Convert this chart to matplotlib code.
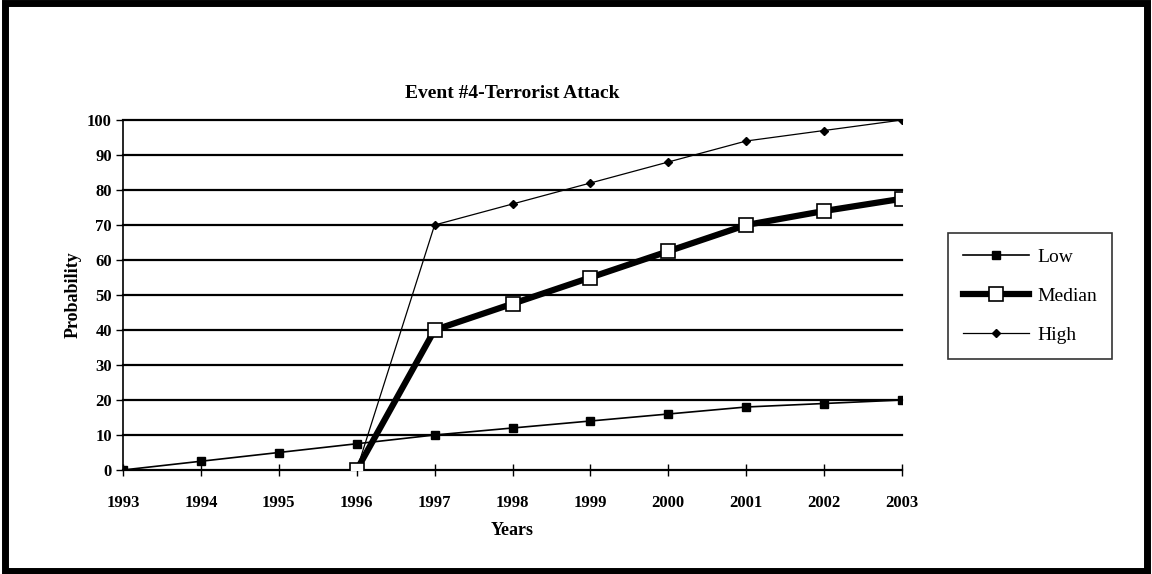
import matplotlib.pyplot as plt
from matplotlib.patches import Rectangle

years = [1993, 1994, 1995, 1996, 1997, 1998, 1999, 2000, 2001, 2002, 2003]
low = [0, 2.5, 5, 7.5, 10, 12, 14, 16, 18, 19, 20]
median_years = [1996, 1997, 1998, 1999, 2000, 2001, 2002, 2003]
median = [0, 40, 47.5, 55, 62.5, 70, 74, 77.5]
high_years = [1996, 1997, 1998, 1999, 2000, 2001, 2002, 2003]
high = [0, 70, 76, 82, 88, 94, 97, 100]

plt.rcParams['font.family'] = ['Liberation Serif', 'DejaVu Serif']

fig = plt.figure(figsize=(11.52, 5.74), dpi=100)
ax = fig.add_axes([123 / 1152, 1 - 470 / 574, (902 - 123) / 1152, 350 / 574])

for v in range(10, 101, 10):
    ax.axhline(v, color='black', lw=1.6, zorder=1, clip_on=False)

ax.plot(years, low, color='black', lw=1.2, marker='s', ms=6,
        mfc='black', label='Low', zorder=3)
ax.plot(median_years, median, color='black', lw=4.5, marker='s', ms=10,
        mfc='white', mec='black', mew=1.2, label='Median', zorder=4)
ax.plot(high_years, high, color='black', lw=0.9, marker='D', ms=4,
        mfc='black', label='High', zorder=3)

ax.set_xlim(1993, 2003)
ax.set_ylim(0, 100)
ax.set_xticks(years)
ax.set_yticks(range(0, 101, 10))
ax.tick_params(axis='x', direction='inout', length=8, width=1, labelsize=12, pad=14)
ax.tick_params(axis='y', direction='out', length=5, width=1, labelsize=12, pad=3)
for lbl in ax.get_xticklabels() + ax.get_yticklabels():
    lbl.set_fontweight('bold')
ax.spines['top'].set_visible(False)
ax.spines['right'].set_visible(False)
ax.spines['left'].set_linewidth(1.2)
ax.spines['bottom'].set_linewidth(1.6)

ax.set_title('Event #4-Terrorist Attack', fontsize=14, fontweight='bold', pad=16)
ax.set_xlabel('Years', fontsize=13, fontweight='bold', labelpad=8)
ax.set_ylabel('Probability', fontsize=13, fontweight='bold', labelpad=4)

leg = fig.legend(loc='center left', bbox_to_anchor=(938 / 1152, 1 - 296 / 574),
                 fontsize=14, frameon=True, fancybox=False, edgecolor='black',
                 handlelength=3.4, handletextpad=0.4, labelspacing=1.1,
                 borderpad=0.8)
leg.get_frame().set_linewidth(1.2)

fig.patches.append(Rectangle((0.004, 0.006), 0.992, 0.988, transform=fig.transFigure,
                             fill=False, edgecolor='black', lw=5))

fig.savefig('out.png', dpi=100)
